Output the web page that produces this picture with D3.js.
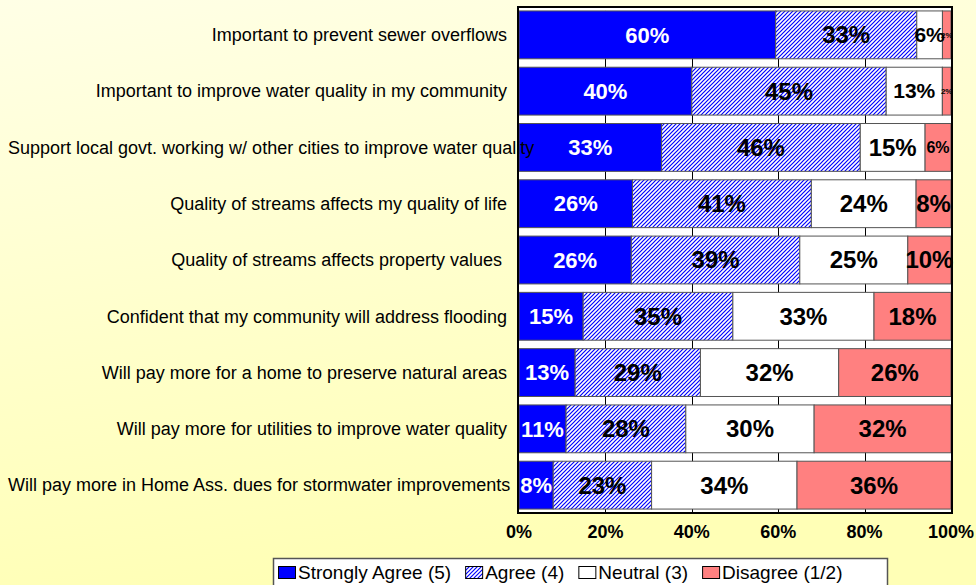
<!DOCTYPE html>
<html>
<head>
<meta charset="utf-8">
<script src="https://cdn.jsdelivr.net/npm/d3@7"></script>
<style>
  html, body { margin: 0; padding: 0; }
  body { width: 976px; height: 585px; overflow: hidden; }
  svg { display: block; font-family: "Liberation Sans", Arial, sans-serif; }
</style>
</head>
<body>
<svg id="chart" width="976" height="585"></svg>
<script>
// ---- data ----
const categories = [
  "Important to prevent sewer overflows",
  "Important to improve water quality in my community",
  "Support local govt. working w/ other cities to improve water quality",
  "Quality of streams affects my quality of life",
  "Quality of streams affects property values ",
  "Confident that my community will address flooding",
  "Will pay more for a home to preserve natural areas",
  "Will pay more for utilities to improve water quality",
  "Will pay more in Home Ass. dues for stormwater improvements"
];
const stronglyAgree = [60, 40, 33, 26, 26, 15, 13, 11, 8];
const agree         = [33, 45, 46, 41, 39, 35, 29, 28, 23];
const neutral       = [6, 13, 15, 24, 25, 33, 32, 30, 34];
const disagree      = [2, 2, 6, 8, 10, 18, 26, 32, 36];
const seriesNames = ["Strongly Agree (5)", "Agree (4)", "Neutral (3)", "Disagree (1/2)"];
const seriesKeys = ["sa", "a", "n", "d"];
const tickValues = [0, 0.2, 0.4, 0.6, 0.8, 1];

// ---- table ----
const rows = categories.map((c, i) => ({
  cat: c, sa: stronglyAgree[i], a: agree[i], n: neutral[i], d: disagree[i]
}));
const stacked = d3.stack().keys(seriesKeys).offset(d3.stackOffsetExpand)(rows);

const svg = d3.select("#chart");
const W = 976, H = 585;
const plot = { left: 519, right: 951, top: 7, bottom: 513 };

const defs = svg.append("defs");
const bg = defs.append("linearGradient").attr("id", "bg")
  .attr("x1", 0).attr("y1", 0).attr("x2", 0.25).attr("y2", 1);
bg.append("stop").attr("offset", "0%").attr("stop-color", "#FFFFE6");
bg.append("stop").attr("offset", "100%").attr("stop-color", "#FFFFB6");

const hatch = defs.append("pattern").attr("id", "hatch")
  .attr("patternUnits", "userSpaceOnUse").attr("width", 4).attr("height", 4);
hatch.append("rect").attr("width", 4).attr("height", 4).attr("fill", "#fff");
hatch.append("path").attr("d", "M-1,1 l2,-2 M0,4 l4,-4 M3,5 l2,-2")
  .attr("stroke", "#0000FF").attr("stroke-width", 1.2);

const fills = { sa: "#0000FF", a: "url(#hatch)", n: "#FFFFFF", d: "#FF8080" };
const labelColors = { sa: "#FFFFFF", a: "#000000", n: "#000000", d: "#000000" };

svg.append("rect").attr("width", W).attr("height", H).attr("fill", "url(#bg)");

const x = d3.scaleLinear().domain([0, 1]).range([plot.left, plot.right]);
const y = d3.scaleBand().domain(categories).range([plot.top, plot.bottom])
  .paddingInner(0.15).paddingOuter(0.07);

// plot area
svg.append("rect")
  .attr("x", plot.left - 1).attr("y", plot.top)
  .attr("width", plot.right - plot.left + 2).attr("height", plot.bottom - plot.top)
  .attr("fill", "#fff");

// gridlines
svg.append("g").selectAll("line")
  .data(tickValues.slice(1, -1)).join("line")
  .attr("x1", d => Math.round(x(d)) + 0.5).attr("x2", d => Math.round(x(d)) + 0.5)
  .attr("y1", y(categories[0])).attr("y2", plot.bottom)
  .attr("stroke", "#000").attr("stroke-width", 1);

// bars
const segs = svg.append("g");
stacked.forEach(s => {
  segs.append("g").selectAll("rect")
    .data(s).join("rect")
    .attr("x", d => x(d[0]))
    .attr("y", d => y(d.data.cat))
    .attr("width", d => x(d[1]) - x(d[0]))
    .attr("height", y.bandwidth())
    .attr("fill", fills[s.key])
    .attr("stroke", "#555").attr("stroke-width", 1);
});

// category labels
const catG = svg.append("g");
catG.selectAll("text").data(categories).join("text")
  .attr("x", 507)
  .attr("y", d => y(d) + y.bandwidth() / 2)
  .attr("dy", "0.35em")
  .attr("text-anchor", "end")
  .attr("font-size", 18)
  .attr("fill", "#000")
  .style("white-space", "pre")
  .text(d => d)
  .each(function() {
    const w = this.getComputedTextLength();
    if (507 - w < 8) {
      d3.select(this).attr("text-anchor", "start").attr("x", 8);
    }
  });

// frame
svg.append("rect")
  .attr("x", plot.left - 1).attr("y", plot.top)
  .attr("width", plot.right - plot.left + 2).attr("height", plot.bottom - plot.top)
  .attr("fill", "none").attr("stroke", "#000").attr("stroke-width", 2);

// data labels
const lab = svg.append("g").attr("font-weight", "bold").attr("text-anchor", "middle");
stacked.forEach(s => {
  lab.append("g").selectAll("text")
    .data(s).join("text")
    .attr("x", d => (x(d[0]) + x(d[1])) / 2)
    .attr("y", d => y(d.data.cat) + y.bandwidth() / 2)
    .attr("dy", "0.35em")
    .attr("fill", labelColors[s.key])
    .attr("font-size", d => {
      const w = x(d[1]) - x(d[0]);
      if (w < 12) return 8;
      if (s.key === "d" && w < 30) return 16;
      if (s.key === "n" && w < 60) return 21;
      return s.key === "sa" ? 22 : 24;
    })
    .text(d => d.data[s.key] + "%");
});

// x axis tick labels
svg.append("g").selectAll("text").data(tickValues).join("text")
  .attr("x", d => x(d)).attr("y", 538)
  .attr("text-anchor", "middle")
  .attr("font-weight", "bold").attr("font-size", 18)
  .text(d => d3.format(".0%")(d));

// legend
const leg = svg.append("g");
leg.append("rect").attr("x", 273.5).attr("y", 558.5).attr("width", 614).attr("height", 40)
  .attr("fill", "#fff").attr("stroke", "#555").attr("stroke-width", 1.5);
let lx = 278;
seriesKeys.forEach((k, i) => {
  leg.append("rect").attr("x", lx + 0.5).attr("y", 566.5).attr("width", 17).attr("height", 12)
    .attr("fill", fills[k]).attr("stroke", "#000").attr("stroke-width", 1);
  const t = leg.append("text").attr("x", lx + 20).attr("y", 578.5)
    .attr("font-size", 19).text(seriesNames[i]);
  lx = lx + 20 + t.node().getComputedTextLength() + 14;
});
</script>
</body>
</html>
